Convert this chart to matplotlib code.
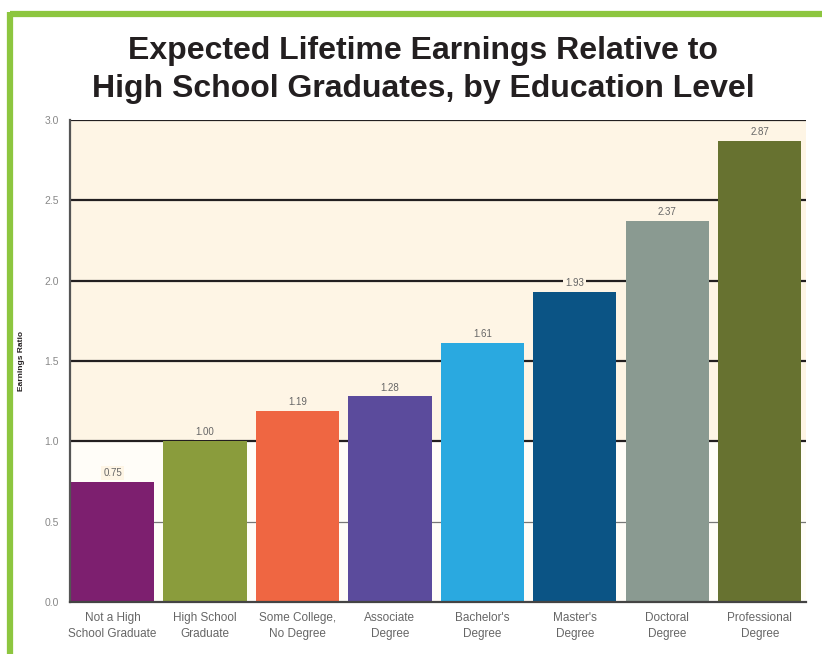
import matplotlib.pyplot as plt
from matplotlib.lines import Line2D

# data
categories = ['Not a High\nSchool Graduate', 'High School\nGraduate', 'Some College,\nNo Degree',
              'Associate\nDegree', "Bachelor's\nDegree", "Master's\nDegree",
              'Doctoral\nDegree', 'Professional\nDegree']
ratios = [0.75, 1.00, 1.19, 1.28, 1.61, 1.93, 2.37, 2.87]
value_labels = ['0.75', '1.00', '1.19', '1.28', '1.61', '1.93', '2.37', '2.87']
bar_colors = ['#7D1F6F', '#8A9C3C', '#EF6642', '#5B4B9C',
              '#2AA9E0', '#0B5485', '#8A9A91', '#677230']
yticks = [0.0, 0.5, 1.0, 1.5, 2.0, 2.5, 3.0]

cream = '#FEF5E5'

fig = plt.figure(figsize=(8.22, 6.54), dpi=100)
fig.patch.set_facecolor('white')

# green frame (top and left edges)
fig.add_artist(Line2D([10 / 822, 1.0], [1 - 14 / 654, 1 - 14 / 654], color='#8DC63F', lw=4.5,
                      solid_capstyle='butt', transform=fig.transFigure))
fig.add_artist(Line2D([10 / 822, 10 / 822], [0.0, 1 - 12 / 654], color='#8DC63F', lw=4.5,
                      solid_capstyle='butt', transform=fig.transFigure))

fig.text(0.515, 1 - 51 / 654, 'Expected Lifetime Earnings Relative to', ha='center', va='center',
         fontsize=23, fontweight='bold', color='#231F20', family='Liberation Sans')
fig.text(0.515, 1 - 89 / 654, 'High School Graduates, by Education Level', ha='center', va='center',
         fontsize=23, fontweight='bold', color='#231F20', family='Liberation Sans')

ax = fig.add_axes([70 / 822, 1 - 602 / 654, 736 / 822, 482 / 654])
ax.set_facecolor('#FFFDF8')
ax.axhspan(1.0, 3.0, color=cream, zorder=0, lw=0)

x = list(range(len(categories)))
ax.bar(x, ratios, width=0.9, color=bar_colors, zorder=3)

# horizontal rules behind the bars
for yv in [1.0, 1.5, 2.0, 2.5, 3.0]:
    ax.axhline(yv, color='#231F20', lw=1.6, zorder=2)
ax.axhline(0.5, color='#777777', lw=0.9, zorder=2)

for xi, v, lab in zip(x, ratios, value_labels):
    ax.text(xi, v + 0.055, lab, ha='center', va='center', fontsize=7, color='#666666',
            family='Liberation Sans', zorder=4,
            bbox=dict(facecolor=cream, edgecolor='none', pad=1.5))

ax.set_xlim(-0.46, 7.5)
ax.set_ylim(0, 3.0)
ax.set_yticks(yticks)
ax.set_yticklabels([f'{t:.1f}' for t in yticks], fontsize=7.5, color='#888888', family='Liberation Sans')
ax.set_xticks(x)
ax.set_xticklabels(categories, fontsize=8.5, color='#666666', family='Liberation Sans', linespacing=1.45)
ax.tick_params(axis='x', length=0, pad=7)
ax.tick_params(axis='y', length=0, pad=8)

for side in ['top', 'right']:
    ax.spines[side].set_visible(False)
ax.spines['left'].set_color('#555555')
ax.spines['left'].set_linewidth(1.6)
ax.spines['bottom'].set_color('#444444')
ax.spines['bottom'].set_linewidth(1.6)
ax.spines['left'].set_zorder(5)
ax.spines['bottom'].set_zorder(5)

ax.set_ylabel('Earnings Ratio', fontsize=6, fontweight='bold', color='#231F20',
              family='Liberation Sans', labelpad=14)

fig.savefig('out.png', dpi=100, facecolor='white')
